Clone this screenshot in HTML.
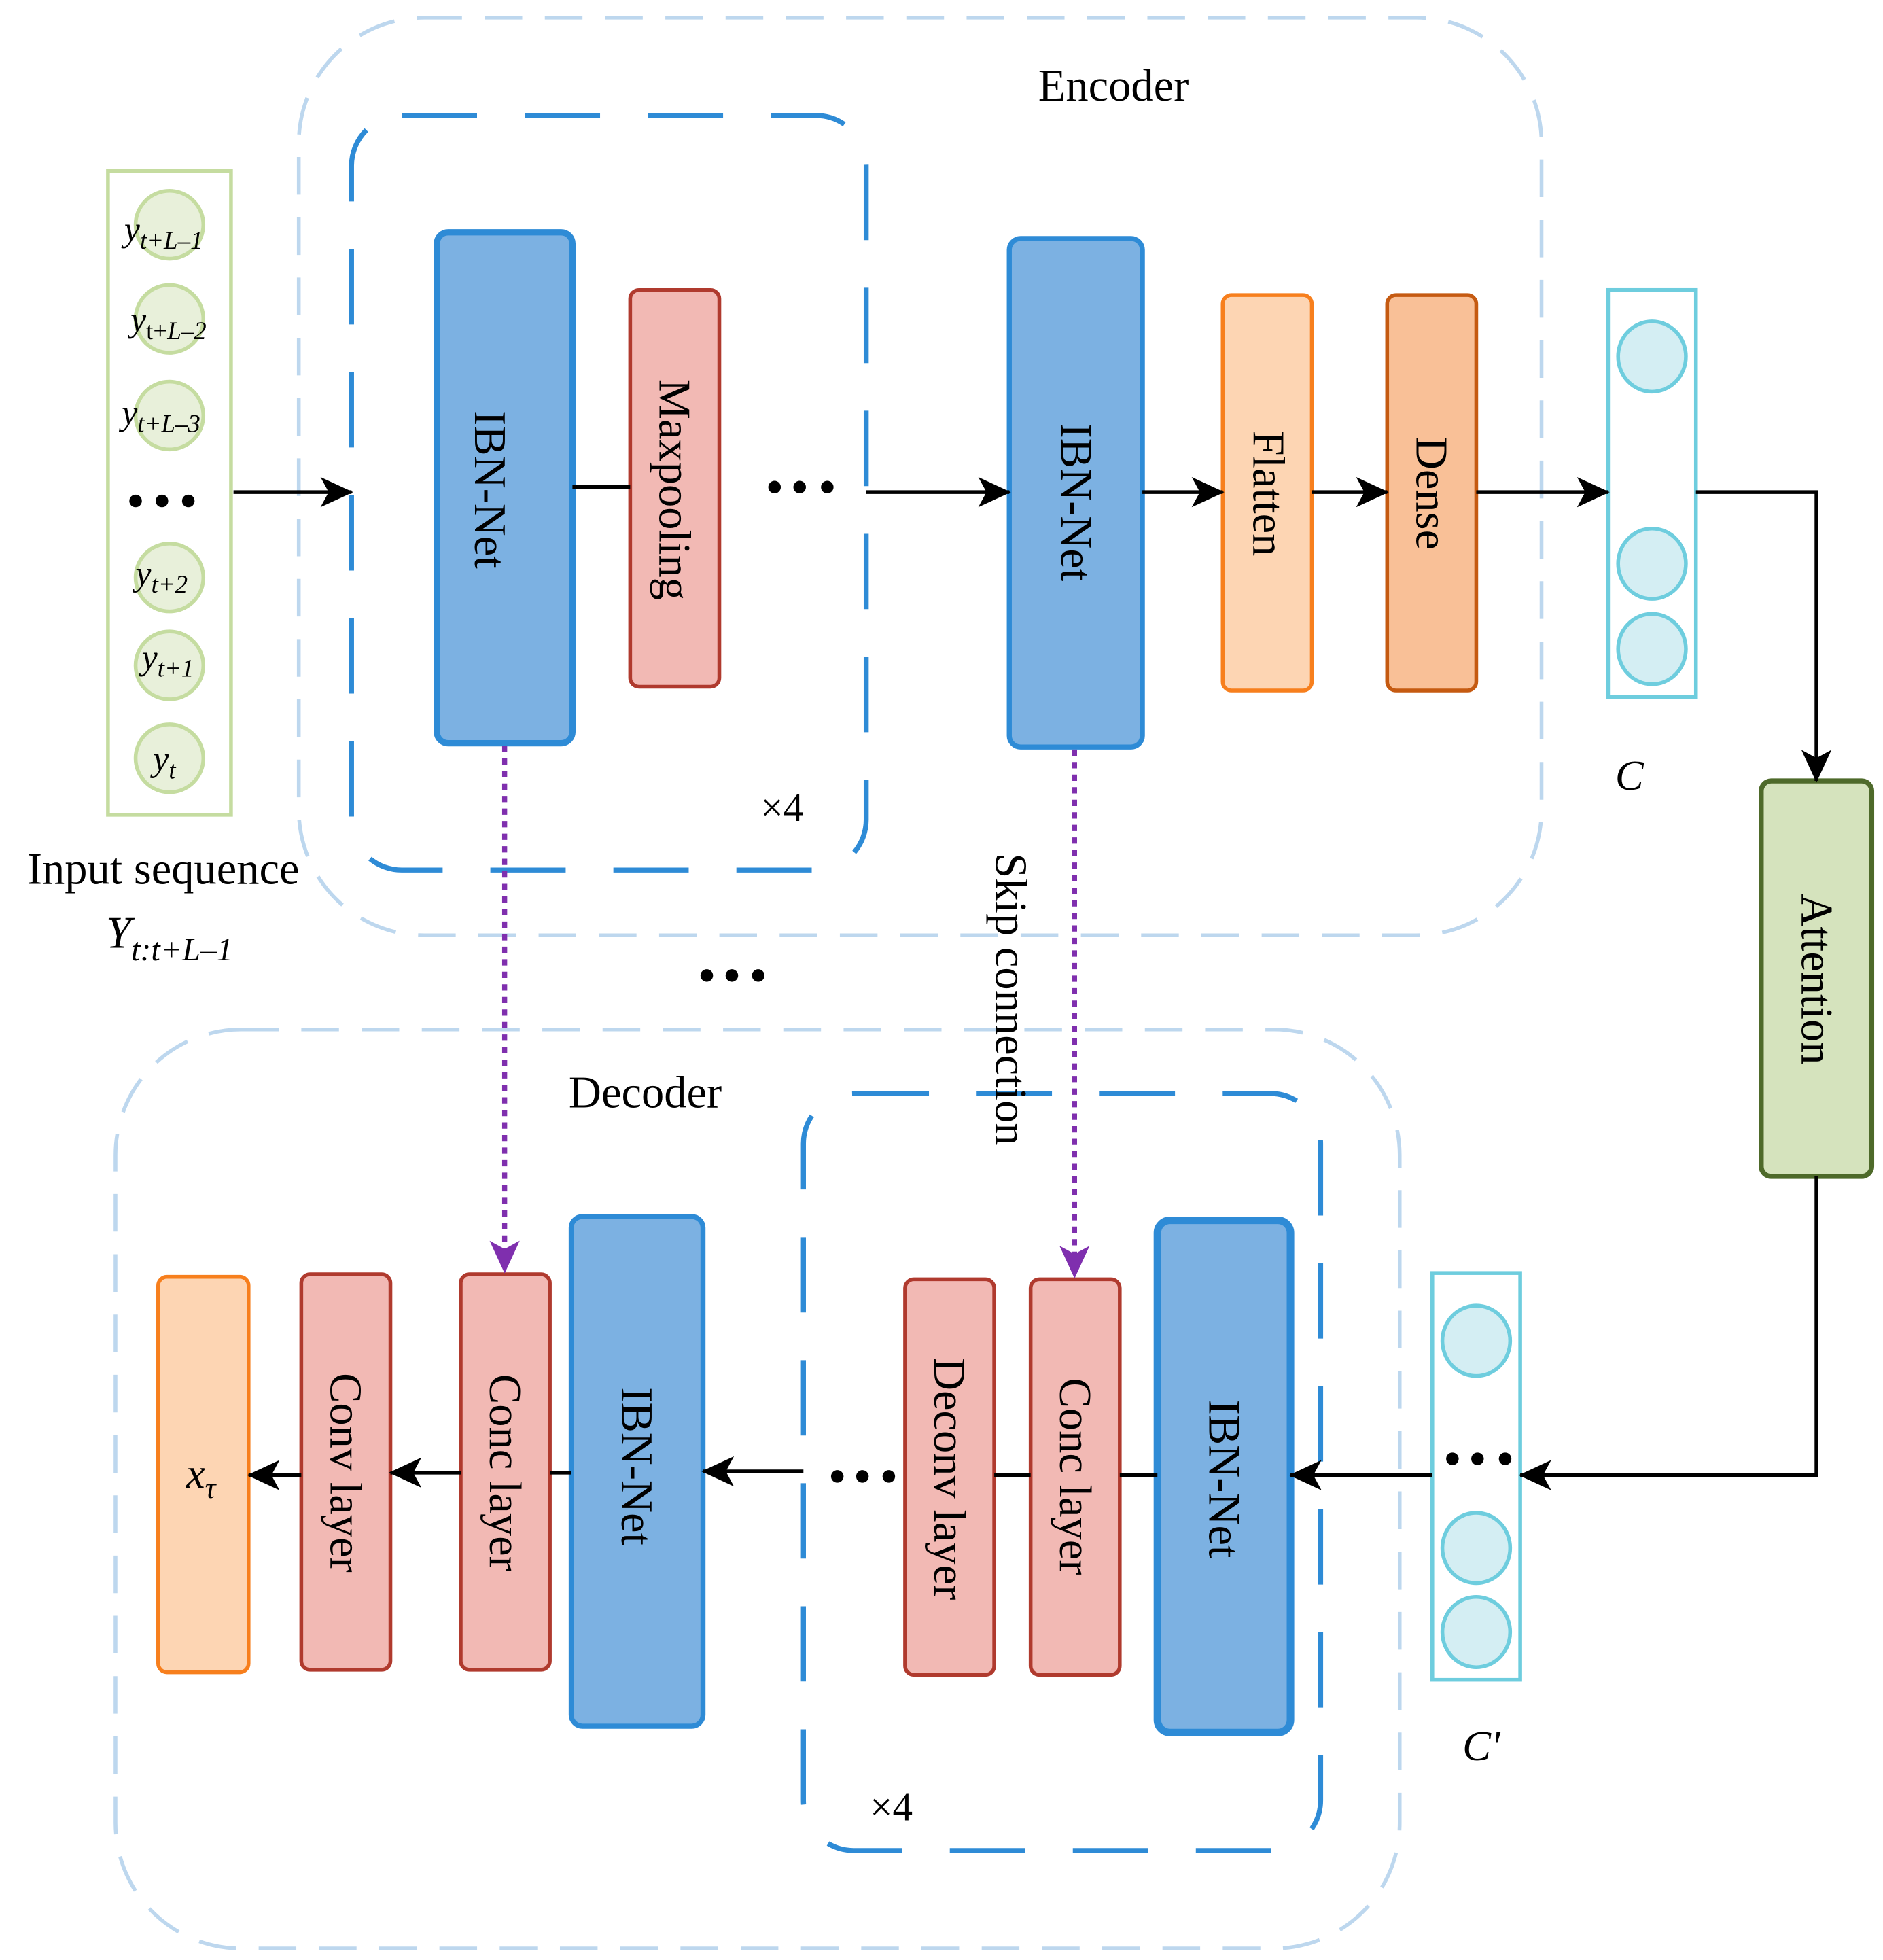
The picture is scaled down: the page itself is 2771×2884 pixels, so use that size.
<!DOCTYPE html>
<html><head><style>html,body{margin:0;padding:0;background:#fff}svg{display:block}</style></head>
<body>
<svg xmlns="http://www.w3.org/2000/svg" width="2771" height="2884" viewBox="0 0 1500 1561.2" font-family="'Liberation Serif', serif">
<defs>
<marker id="ar" viewBox="0 0 20 20" refX="19" refY="10" markerWidth="26" markerHeight="24" markerUnits="userSpaceOnUse" orient="auto" preserveAspectRatio="none">
<path d="M0,0 L20,10 L0,20 L5,10 Z" fill="#000"/></marker>
<marker id="ap" viewBox="0 0 20 20" refX="19" refY="10" markerWidth="26" markerHeight="24" markerUnits="userSpaceOnUse" orient="auto" preserveAspectRatio="none">
<path d="M0,0 L20,10 L0,20 L5,10 Z" fill="#7f2fae"/></marker>
</defs>
<rect width="1500" height="1561.2" fill="#fff"/>
<rect x="238" y="14" width="990" height="731" rx="100" fill="none" stroke="#bdd7ee" stroke-width="3" stroke-dasharray="30 18"/>
<rect x="92" y="820" width="1023" height="732" rx="100" fill="none" stroke="#bdd7ee" stroke-width="3" stroke-dasharray="30 18"/>
<rect x="280" y="92" width="410" height="601" rx="40" fill="none" stroke="#2e8bd6" stroke-width="4" stroke-dasharray="60 38"/>
<rect x="640" y="871" width="412" height="603" rx="40" fill="none" stroke="#2e8bd6" stroke-width="4" stroke-dasharray="60 38"/>
<rect x="86" y="136" width="98" height="513" fill="#fff" stroke="#c5dca0" stroke-width="3"/>
<g fill="#e8f0da" stroke="#c5dca0" stroke-width="3">
<circle cx="135" cy="179" r="27"/><circle cx="135" cy="254" r="27"/><circle cx="135" cy="331" r="27"/>
<circle cx="135" cy="460" r="27"/><circle cx="135" cy="530" r="27"/><circle cx="135" cy="604" r="27"/>
</g>
<g font-size="28" font-style="italic" fill="#000">
<text x="99" y="192">y<tspan font-size="20" dy="6">t+L–1</tspan></text>
<text x="104" y="264">y<tspan font-size="20" dy="6" font-style="normal">t+</tspan><tspan font-size="20">L–2</tspan></text>
<text x="97" y="338">y<tspan font-size="20" dy="6">t+L–3</tspan></text>
<text x="108" y="466">y<tspan font-size="20" dy="6">t+2</tspan></text>
<text x="113" y="533">y<tspan font-size="20" dy="6">t+1</tspan></text>
<text x="122" y="614">y<tspan font-size="20" dy="6">t</tspan></text>
</g>
<g fill="#000">
<circle cx="108" cy="399" r="5"/><circle cx="129" cy="399" r="5"/><circle cx="150" cy="399" r="5"/>
<circle cx="617" cy="388" r="5"/><circle cx="637" cy="388" r="5"/><circle cx="659" cy="388" r="5"/>
<circle cx="563" cy="777" r="5"/><circle cx="583" cy="777" r="5"/><circle cx="604" cy="777" r="5"/>
<circle cx="1298" cy="372" r="5"/><circle cx="1318" cy="372" r="5"/><circle cx="1340" cy="372" r="5"/>
<circle cx="1157" cy="1162" r="5"/><circle cx="1177" cy="1162" r="5"/><circle cx="1199" cy="1162" r="5"/>
<circle cx="667" cy="1176" r="5"/><circle cx="687" cy="1176" r="5"/><circle cx="708" cy="1176" r="5"/>
</g>
<rect x="348" y="185" width="108" height="407" rx="9" fill="#7cb1e2" stroke="#2e8bd6" stroke-width="5"/>
<rect x="502" y="231" width="71" height="316" rx="7" fill="#f2b9b4" stroke="#b03a2e" stroke-width="3"/>
<rect x="804" y="190" width="106" height="405" rx="9" fill="#7cb1e2" stroke="#2e8bd6" stroke-width="4"/>
<rect x="974" y="235" width="71" height="315" rx="7" fill="#fdd5b3" stroke="#f77f1d" stroke-width="3"/>
<rect x="1105" y="235" width="71" height="315" rx="7" fill="#f9c097" stroke="#c55a11" stroke-width="3"/>
<rect x="1281" y="231" width="70" height="324" fill="#fff" stroke="#6ecdde" stroke-width="3"/>
<g fill="#d4eef3" stroke="#6ecdde" stroke-width="3">
<ellipse cx="1316" cy="284" rx="27" ry="28"/><ellipse cx="1316" cy="449" rx="27" ry="28"/><ellipse cx="1316" cy="517" rx="27" ry="28"/>
<ellipse cx="1176" cy="1068" rx="27" ry="28"/><ellipse cx="1176" cy="1233" rx="27" ry="28"/><ellipse cx="1176" cy="1300" rx="27" ry="28"/>
</g>
<rect x="1403" y="622" width="88" height="315" rx="8" fill="#d5e3bd" stroke="#4e6a2a" stroke-width="4"/>
<rect x="1141" y="1014" width="70" height="324" fill="none" stroke="#6ecdde" stroke-width="3"/>
<rect x="922" y="972" width="106" height="408" rx="10" fill="#7cb1e2" stroke="#2e8bd6" stroke-width="6"/>
<rect x="821" y="1019" width="71" height="315" rx="7" fill="#f2b9b4" stroke="#b03a2e" stroke-width="3"/>
<rect x="721" y="1019" width="71" height="315" rx="7" fill="#f2b9b4" stroke="#b03a2e" stroke-width="3"/>
<rect x="455" y="969" width="105" height="406" rx="9" fill="#7cb1e2" stroke="#2e8bd6" stroke-width="4"/>
<rect x="367" y="1015" width="71" height="315" rx="7" fill="#f2b9b4" stroke="#b03a2e" stroke-width="3"/>
<rect x="240" y="1015" width="71" height="315" rx="7" fill="#f2b9b4" stroke="#b03a2e" stroke-width="3"/>
<rect x="126" y="1017" width="72" height="315" rx="7" fill="#fdd5b3" stroke="#f77f1d" stroke-width="3"/>
<g stroke="#000" stroke-width="3" fill="none">
<line x1="186" y1="392" x2="280" y2="392" marker-end="url(#ar)"/>
<line x1="456" y1="388" x2="502" y2="388"/>
<line x1="690" y1="392" x2="804" y2="392" marker-end="url(#ar)"/>
<line x1="910" y1="392" x2="974" y2="392" marker-end="url(#ar)"/>
<line x1="1045" y1="392" x2="1105" y2="392" marker-end="url(#ar)"/>
<line x1="1176" y1="392" x2="1281" y2="392" marker-end="url(#ar)"/>
<polyline points="1351,392 1447,392 1447,622" marker-end="url(#ar)"/>
<polyline points="1447,937 1447,1175 1211,1175" marker-end="url(#ar)"/>
<line x1="1141" y1="1175" x2="1028" y2="1175" marker-end="url(#ar)"/>
<line x1="892" y1="1175" x2="922" y2="1175"/>
<line x1="792" y1="1175" x2="821" y2="1175"/>
<line x1="640" y1="1172" x2="560" y2="1172" marker-end="url(#ar)"/>
<line x1="455" y1="1173" x2="438" y2="1173"/>
<line x1="367" y1="1173" x2="311" y2="1173" marker-end="url(#ar)"/>
<line x1="240" y1="1175" x2="198" y2="1175" marker-end="url(#ar)"/>
</g>
<g stroke="#7f2fae" stroke-width="4" stroke-dasharray="5 5" fill="none">
<line x1="402" y1="594" x2="402" y2="1013" marker-end="url(#ap)"/>
<line x1="856" y1="597" x2="856" y2="1017" marker-end="url(#ap)"/>
</g>
<g font-size="36" fill="#000" text-anchor="middle">
<text x="887" y="80">Encoder</text>
<text x="514" y="882">Decoder</text>
<text x="130" y="704">Input sequence</text>
<text x="135" y="755" font-style="italic">Y<tspan font-size="26" dy="10">t:t+L–1</tspan></text>
<text x="623" y="654" font-size="32">×4</text>
<text x="710" y="1450" font-size="32">×4</text>
<text x="1298" y="629" font-style="italic" font-size="34">C</text>
<text x="1180" y="1402" font-style="italic" font-size="34">C'</text>
<text x="160" y="1185" font-style="italic" font-size="34">x<tspan font-size="24" dy="8">τ</tspan></text>
<text transform="translate(390,390) rotate(90)" dominant-baseline="central">IBN-Net</text>
<text transform="translate(537,390) rotate(90)" dominant-baseline="central">Maxpooling</text>
<text transform="translate(857,400) rotate(90)" dominant-baseline="central">IBN-Net</text>
<text transform="translate(1010,393) rotate(90)" dominant-baseline="central">Flatten</text>
<text transform="translate(1140,393) rotate(90)" dominant-baseline="central">Dense</text>
<text transform="translate(1447,780) rotate(90)" dominant-baseline="central">Attention</text>
<text transform="translate(805,796) rotate(90)" dominant-baseline="central">Skip connection</text>
<text transform="translate(975,1178) rotate(90)" dominant-baseline="central">IBN-Net</text>
<text transform="translate(856,1176) rotate(90)" dominant-baseline="central">Conc layer</text>
<text transform="translate(756,1178) rotate(90)" dominant-baseline="central">Deconv layer</text>
<text transform="translate(507,1168) rotate(90)" dominant-baseline="central">IBN-Net</text>
<text transform="translate(402,1173) rotate(90)" dominant-baseline="central">Conc layer</text>
<text transform="translate(275,1173) rotate(90)" dominant-baseline="central">Conv layer</text>
</g>
</svg>
</body></html>
